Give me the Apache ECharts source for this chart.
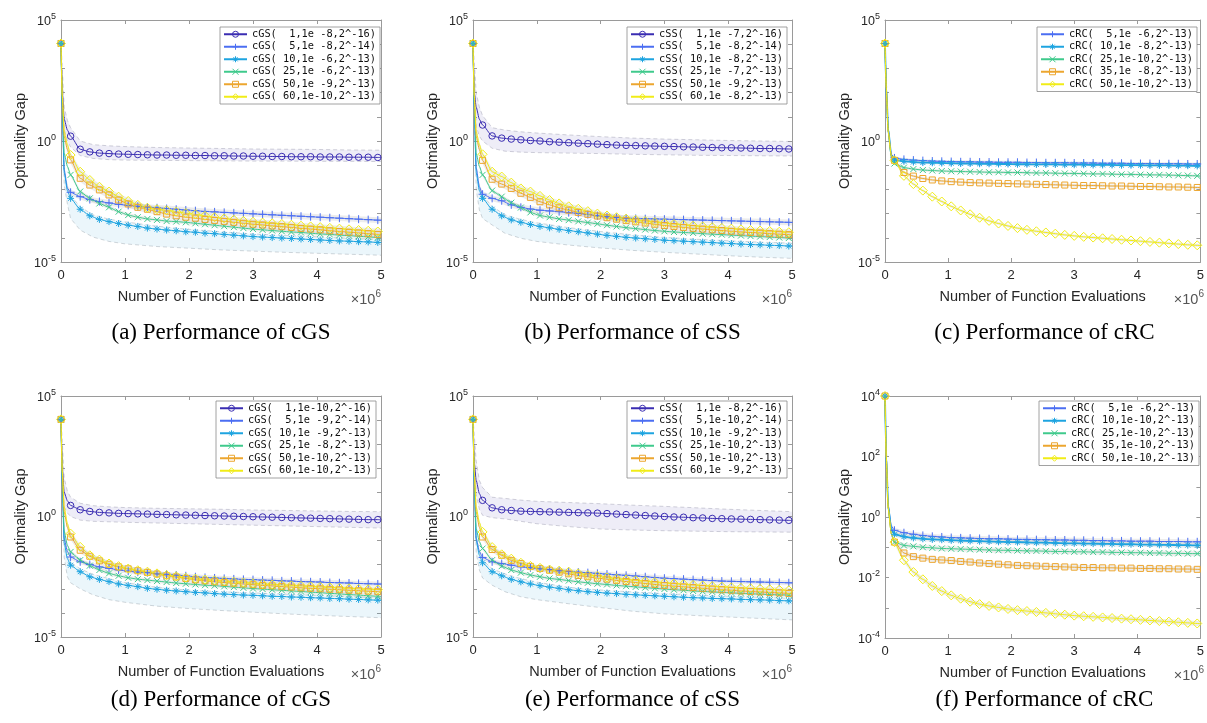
<!DOCTYPE html>
<html><head><meta charset="utf-8">
<script src="https://cdn.jsdelivr.net/npm/echarts@6/dist/echarts.min.js"></script>
<style>html,body{margin:0;padding:0;background:#fff}#c{width:1207px;height:723px}</style>
</head><body><div id="c"></div>
<script>
// x positions, in units of 10^6 function evaluations
const X = [0, 0.02, 0.05, 0.1,
  0.15, 0.3, 0.45, 0.6, 0.75, 0.9, 1.05, 1.2, 1.35, 1.5, 1.65,
  1.8, 1.95, 2.1, 2.25, 2.4, 2.55, 2.7, 2.85, 3.0, 3.15, 3.3,
  3.45, 3.6, 3.75, 3.9, 4.05, 4.2, 4.35, 4.5, 4.65, 4.8, 4.95,
  5.0];
// x positions of the typed band edges
const BX = [0, 0.05, 0.1, 0.15, 0.3, 0.5, 0.75, 1, 1.5, 2, 2.5, 3, 3.5, 4, 4.5, 5];

// all curve values are log10(optimality gap)
// ---- (a) cGS
const a1 = [4.03,2.0,0.9,0.45, 0.2,-0.34,-0.45,-0.5,-0.52,-0.54,-0.55,-0.56,-0.57,-0.58,-0.58, -0.59,-0.59,-0.6,-0.6,-0.61,-0.61,-0.62,-0.62,-0.63,-0.63,-0.64, -0.64,-0.65,-0.65,-0.65,-0.66,-0.66,-0.66,-0.67,-0.67,-0.67,-0.68, -0.68];
const a2 = [4.03,1.5,-1.2,-1.95, -2.12,-2.3,-2.42,-2.5,-2.56,-2.62,-2.66,-2.7,-2.73,-2.76,-2.79, -2.82,-2.85,-2.88,-2.91,-2.93,-2.95,-2.97,-2.99,-3.01,-3.03,-3.05, -3.07,-3.09,-3.11,-3.13,-3.15,-3.17,-3.19,-3.21,-3.23,-3.25,-3.27, -3.28];
const a3 = [4.03,1.3,-1.3,-2.05, -2.37,-2.82,-3.09,-3.24,-3.33,-3.41,-3.48,-3.53,-3.6,-3.64,-3.68, -3.71,-3.75,-3.77,-3.81,-3.83,-3.86,-3.89,-3.92,-3.95,-3.97,-3.99, -4.01,-4.03,-4.05,-4.07,-4.09,-4.11,-4.13,-4.14,-4.16,-4.17,-4.19, -4.2];
const a4 = [4.03,1.6,-0.5,-1.05, -1.4,-2.09,-2.37,-2.58,-2.74,-2.92,-3.06,-3.15,-3.22,-3.26,-3.31, -3.33,-3.36,-3.4,-3.44,-3.48,-3.52,-3.56,-3.6,-3.64,-3.67,-3.7, -3.73,-3.76,-3.78,-3.81,-3.84,-3.86,-3.89,-3.91,-3.94,-3.96,-3.99, -4.0];
const a5 = [4.03,1.8,0.2,-0.35, -0.78,-1.54,-1.82,-2.02,-2.23,-2.44,-2.6,-2.74,-2.82,-2.92,-3.02, -3.09,-3.15,-3.19,-3.24,-3.28,-3.32,-3.36,-3.4,-3.44,-3.47,-3.51, -3.54,-3.57,-3.61,-3.64,-3.67,-3.71,-3.74,-3.77,-3.8,-3.83,-3.86, -3.87];
const a6 = [4.03,1.9,0.4,-0.15, -0.58,-1.27,-1.61,-1.89,-2.09,-2.3,-2.48,-2.64,-2.76,-2.82,-2.86, -2.92,-2.98,-3.03,-3.09,-3.15,-3.2,-3.25,-3.3,-3.34,-3.37,-3.4, -3.43,-3.46,-3.5,-3.53,-3.56,-3.59,-3.62,-3.65,-3.68,-3.71,-3.74, -3.75];
const aPurpleHi = [4.1,1.4,0.85,0.55,0.0,-0.15,-0.2,-0.23,-0.27,-0.29,-0.31,-0.33,-0.34,-0.35,-0.37,-0.38];
const aPurpleLo = [3.9,0.5,0.0,-0.25,-0.6,-0.72,-0.77,-0.79,-0.8,-0.81,-0.82,-0.83,-0.83,-0.84,-0.84,-0.85];
const aCyanHi = [4.1,-1.1,-1.9,-2.25,-2.72,-3.05,-3.23,-3.34,-3.52,-3.65,-3.75,-3.84,-3.9,-3.96,-4.02,-4.07];
const aCyanLo = [3.9,-1.8,-2.6,-3.2,-3.68,-3.97,-4.15,-4.25,-4.36,-4.43,-4.5,-4.55,-4.6,-4.64,-4.68,-4.72];

// ---- (b) cSS
const b1 = [4.03,2.0,1.4,0.9, 0.66,0.21,0.12,0.08,0.05,0.02,0.0,-0.03,-0.05,-0.07,-0.09, -0.11,-0.13,-0.15,-0.17,-0.18,-0.19,-0.2,-0.21,-0.22,-0.23,-0.24, -0.25,-0.26,-0.27,-0.28,-0.28,-0.29,-0.3,-0.31,-0.31,-0.32,-0.33, -0.33];
const b2 = [4.03,1.5,-1.1,-1.9, -2.2,-2.37,-2.47,-2.64,-2.74,-2.81,-2.86,-2.89,-2.92,-2.96,-2.99, -3.04,-3.09,-3.13,-3.16,-3.19,-3.2,-3.21,-3.22,-3.23,-3.24,-3.25, -3.26,-3.27,-3.28,-3.29,-3.3,-3.31,-3.32,-3.33,-3.34,-3.35,-3.36, -3.37];
const b3 = [4.03,1.3,-1.3,-2.05, -2.37,-2.82,-3.09,-3.26,-3.36,-3.45,-3.53,-3.59,-3.65,-3.7,-3.75, -3.8,-3.85,-3.9,-3.94,-3.98,-4.01,-4.04,-4.07,-4.1,-4.12,-4.14, -4.16,-4.18,-4.2,-4.22,-4.24,-4.26,-4.28,-4.29,-4.31,-4.32,-4.34, -4.34];
const b4 = [4.03,1.6,-0.5,-1.05, -1.4,-2.05,-2.3,-2.55,-2.75,-2.95,-3.08,-3.15,-3.22,-3.27,-3.32, -3.37,-3.42,-3.48,-3.53,-3.58,-3.62,-3.66,-3.7,-3.73,-3.76,-3.78, -3.8,-3.83,-3.85,-3.87,-3.89,-3.91,-3.93,-3.95,-3.97,-3.99,-4.01, -4.02];
const b5 = [4.03,1.8,0.2,-0.35, -0.8,-1.58,-1.78,-1.96,-2.16,-2.33,-2.51,-2.64,-2.76,-2.86,-2.95, -3.03,-3.1,-3.17,-3.23,-3.29,-3.34,-3.39,-3.44,-3.49,-3.53,-3.57, -3.61,-3.64,-3.67,-3.7,-3.73,-3.76,-3.78,-3.8,-3.83,-3.85,-3.87, -3.88];
const b6 = [4.03,1.9,0.4,-0.15, -0.55,-1.27,-1.47,-1.72,-1.96,-2.09,-2.27,-2.44,-2.58,-2.7,-2.8, -2.9,-3.0,-3.08,-3.15,-3.21,-3.26,-3.31,-3.35,-3.39,-3.43,-3.46, -3.5,-3.53,-3.56,-3.59,-3.62,-3.65,-3.68,-3.7,-3.72,-3.75,-3.77, -3.78];
const bPurpleHi = [4.1,2.0,1.4,1.05,0.55,0.45,0.38,0.33,0.25,0.18,0.12,0.08,0.05,0.02,0.0,-0.02];
const bPurpleLo = [3.9,0.6,0.2,0.0,-0.3,-0.42,-0.46,-0.48,-0.5,-0.52,-0.55,-0.57,-0.59,-0.6,-0.61,-0.62];
const bCyanHi = [4.1,-1.1,-1.9,-2.25,-2.7,-3.05,-3.24,-3.38,-3.58,-3.74,-3.88,-3.98,-4.06,-4.12,-4.18,-4.22];
const bCyanLo = [3.9,-2.0,-2.85,-3.2,-3.47,-3.81,-4.02,-4.15,-4.3,-4.42,-4.52,-4.6,-4.67,-4.74,-4.8,-4.85];

// ---- (c) cRC
const c1 = [4.03,2.2,0.5,-0.55, -0.7,-0.76,-0.79,-0.81,-0.83,-0.84,-0.85,-0.86,-0.86,-0.87,-0.87, -0.88,-0.88,-0.88,-0.89,-0.89,-0.9,-0.9,-0.9,-0.91,-0.91,-0.91, -0.92,-0.92,-0.92,-0.93,-0.93,-0.93,-0.94,-0.94,-0.94,-0.95,-0.95, -0.95];
const c2 = [4.03,2.2,0.5,-0.6, -0.78,-0.84,-0.87,-0.89,-0.9,-0.91,-0.92,-0.93,-0.93,-0.94,-0.94, -0.95,-0.95,-0.96,-0.96,-0.97,-0.97,-0.97,-0.98,-0.98,-0.98,-0.99, -0.99,-0.99,-1.0,-1.0,-1.0,-1.01,-1.01,-1.01,-1.02,-1.02,-1.03, -1.03];
const c3 = [4.03,2.2,0.4,-0.7, -0.93,-1.1,-1.16,-1.2,-1.22,-1.24,-1.25,-1.26,-1.27,-1.28,-1.29, -1.29,-1.3,-1.3,-1.31,-1.32,-1.32,-1.33,-1.34,-1.34,-1.35,-1.36, -1.36,-1.37,-1.38,-1.38,-1.39,-1.4,-1.4,-1.41,-1.42,-1.43,-1.44, -1.45];
const c4 = [4.03,2.2,0.4,-0.6, -0.8,-1.3,-1.45,-1.55,-1.61,-1.65,-1.68,-1.7,-1.72,-1.73,-1.74, -1.75,-1.76,-1.77,-1.78,-1.79,-1.8,-1.81,-1.82,-1.83,-1.84,-1.84, -1.85,-1.86,-1.86,-1.87,-1.88,-1.88,-1.89,-1.9,-1.9,-1.91,-1.92, -1.93];
const c5 = [4.03,2.2,0.4,-0.6, -0.8,-1.44,-1.78,-2.05,-2.3,-2.5,-2.7,-2.87,-3.03,-3.17,-3.3, -3.41,-3.51,-3.6,-3.67,-3.73,-3.78,-3.83,-3.88,-3.92,-3.96,-3.99, -4.02,-4.05,-4.08,-4.11,-4.14,-4.17,-4.2,-4.23,-4.26,-4.29,-4.31, -4.32];

// ---- (d) cGS
const d1 = [4.03,2.0,1.0,0.65, 0.46,0.28,0.21,0.17,0.15,0.13,0.12,0.11,0.1,0.09,0.08, 0.07,0.06,0.05,0.04,0.03,0.02,0.01,0.0,-0.01,-0.02,-0.03, -0.04,-0.05,-0.06,-0.07,-0.08,-0.09,-0.1,-0.11,-0.12,-0.13,-0.13, -0.14];
const d2 = [4.03,1.5,-0.9,-1.45, -1.68,-1.88,-1.99,-2.09,-2.15,-2.22,-2.27,-2.31,-2.33,-2.38,-2.4, -2.43,-2.46,-2.5,-2.53,-2.55,-2.57,-2.59,-2.61,-2.62,-2.64,-2.65, -2.67,-2.68,-2.7,-2.71,-2.72,-2.74,-2.75,-2.76,-2.78,-2.79,-2.8, -2.81];
const d3 = [4.03,1.3,-1.1,-1.75, -2.02,-2.29,-2.5,-2.61,-2.7,-2.8,-2.86,-2.91,-2.98,-3.02,-3.06, -3.09,-3.12,-3.15,-3.17,-3.2,-3.22,-3.24,-3.26,-3.27,-3.29,-3.31, -3.32,-3.34,-3.35,-3.37,-3.38,-3.4,-3.41,-3.43,-3.44,-3.46,-3.47, -3.48];
const d4 = [4.03,1.6,-0.6,-1.2, -1.47,-1.81,-2.04,-2.22,-2.36,-2.46,-2.54,-2.6,-2.64,-2.68,-2.72, -2.76,-2.79,-2.82,-2.85,-2.87,-2.9,-2.93,-2.96,-2.99,-3.01,-3.04, -3.06,-3.09,-3.11,-3.14,-3.16,-3.19,-3.21,-3.24,-3.26,-3.29,-3.31, -3.32];
const d5 = [4.03,1.8,0.2,-0.45, -0.85,-1.4,-1.65,-1.84,-1.98,-2.09,-2.17,-2.25,-2.32,-2.39,-2.46, -2.51,-2.57,-2.63,-2.67,-2.71,-2.74,-2.77,-2.8,-2.83,-2.86,-2.88, -2.91,-2.93,-2.96,-2.98,-3.0,-3.02,-3.04,-3.06,-3.08,-3.1,-3.12, -3.13];
const d6 = [4.03,1.9,0.4,-0.3, -0.71,-1.26,-1.61,-1.79,-1.95,-2.06,-2.16,-2.23,-2.29,-2.36,-2.43, -2.48,-2.54,-2.58,-2.62,-2.65,-2.68,-2.71,-2.74,-2.77,-2.8,-2.82, -2.84,-2.86,-2.88,-2.9,-2.92,-2.94,-2.96,-2.98,-3.0,-3.02,-3.03, -3.04];
const dPurpleHi = [4.1,1.6,1.05,0.8,0.55,0.45,0.4,0.37,0.34,0.32,0.3,0.27,0.25,0.23,0.21,0.2];
const dPurpleLo = [3.9,0.4,0.15,0.0,-0.15,-0.2,-0.22,-0.24,-0.27,-0.3,-0.33,-0.36,-0.39,-0.42,-0.45,-0.48];
const dCyanHi = [4.1,-0.95,-1.6,-1.9,-2.17,-2.4,-2.58,-2.74,-2.94,-3.06,-3.12,-3.17,-3.22,-3.27,-3.32,-3.37];
const dCyanLo = [3.9,-1.7,-2.5,-2.75,-3.0,-3.25,-3.45,-3.56,-3.72,-3.82,-3.9,-3.97,-4.04,-4.1,-4.15,-4.2];

// ---- (e) cSS
const e1 = [4.03,2.2,1.5,0.95, 0.67,0.36,0.28,0.25,0.22,0.21,0.2,0.19,0.18,0.17,0.16, 0.15,0.14,0.12,0.1,0.08,0.06,0.04,0.02,0.0,-0.02,-0.03, -0.05,-0.06,-0.08,-0.09,-0.1,-0.11,-0.12,-0.13,-0.14,-0.15,-0.16, -0.17];
const e2 = [4.03,1.5,-0.9,-1.45, -1.7,-1.88,-1.95,-2.02,-2.09,-2.13,-2.17,-2.2,-2.25,-2.28,-2.31, -2.33,-2.36,-2.39,-2.42,-2.44,-2.47,-2.5,-2.53,-2.56,-2.58,-2.6, -2.62,-2.64,-2.66,-2.68,-2.69,-2.7,-2.71,-2.72,-2.73,-2.74,-2.75, -2.76];
const e3 = [4.03,1.3,-1.0,-1.6, -1.92,-2.29,-2.46,-2.61,-2.71,-2.8,-2.87,-2.93,-2.98,-3.04,-3.08, -3.12,-3.15,-3.18,-3.2,-3.23,-3.25,-3.27,-3.29,-3.31,-3.33,-3.35, -3.37,-3.38,-3.4,-3.41,-3.42,-3.44,-3.45,-3.46,-3.47,-3.49,-3.5, -3.51];
const e4 = [4.03,1.6,-0.5,-1.05, -1.33,-1.81,-2.06,-2.22,-2.33,-2.43,-2.5,-2.57,-2.61,-2.66,-2.71, -2.75,-2.79,-2.82,-2.86,-2.89,-2.92,-2.95,-2.98,-3.01,-3.04,-3.06, -3.09,-3.11,-3.13,-3.15,-3.17,-3.19,-3.21,-3.22,-3.24,-3.25,-3.26, -3.27];
const e5 = [4.03,1.8,0.2,-0.45, -0.85,-1.37,-1.61,-1.82,-1.95,-2.07,-2.16,-2.23,-2.31,-2.38,-2.45, -2.5,-2.56,-2.6,-2.65,-2.7,-2.74,-2.78,-2.82,-2.86,-2.89,-2.92, -2.95,-2.98,-3.01,-3.04,-3.06,-3.09,-3.11,-3.13,-3.15,-3.17,-3.19, -3.2];
const e6 = [4.03,1.9,0.4,-0.25, -0.64,-1.27,-1.57,-1.75,-1.92,-2.05,-2.13,-2.2,-2.25,-2.29,-2.36, -2.43,-2.47,-2.53,-2.58,-2.61,-2.65,-2.68,-2.72,-2.75,-2.78,-2.81, -2.84,-2.86,-2.89,-2.91,-2.94,-2.96,-2.98,-3.0,-3.02,-3.04,-3.06, -3.07];
const ePurpleHi = [4.1,2.3,1.5,1.2,0.8,0.75,0.68,0.63,0.58,0.53,0.47,0.42,0.36,0.3,0.25,0.2];
const ePurpleLo = [3.9,0.9,0.3,0.05,-0.05,-0.1,-0.2,-0.3,-0.42,-0.52,-0.56,-0.59,-0.61,-0.63,-0.64,-0.65];
const eCyanHi = [4.1,-0.85,-1.45,-1.8,-2.17,-2.38,-2.58,-2.72,-2.94,-3.05,-3.13,-3.2,-3.26,-3.31,-3.35,-3.4];
const eCyanLo = [3.9,-1.5,-2.22,-2.55,-2.85,-3.12,-3.33,-3.45,-3.62,-3.78,-3.93,-4.04,-4.11,-4.17,-4.23,-4.29];

// ---- (f) cRC
const f1 = [4.0,2.0,0.4,-0.3, -0.44,-0.52,-0.57,-0.61,-0.64,-0.66,-0.68,-0.69,-0.7,-0.71,-0.72, -0.72,-0.73,-0.74,-0.74,-0.75,-0.75,-0.76,-0.76,-0.77,-0.77,-0.78, -0.78,-0.79,-0.79,-0.8,-0.8,-0.8,-0.81,-0.81,-0.81,-0.82,-0.82, -0.83];
const f2 = [4.0,2.0,0.35,-0.4, -0.57,-0.65,-0.69,-0.72,-0.74,-0.75,-0.77,-0.78,-0.79,-0.8,-0.81, -0.82,-0.83,-0.83,-0.84,-0.85,-0.85,-0.86,-0.87,-0.87,-0.88,-0.88, -0.89,-0.89,-0.9,-0.9,-0.91,-0.91,-0.92,-0.92,-0.93,-0.93,-0.94, -0.94];
const f3 = [4.0,2.0,0.3,-0.55, -0.83,-0.94,-0.97,-1.0,-1.02,-1.04,-1.05,-1.06,-1.07,-1.08,-1.09, -1.1,-1.1,-1.11,-1.12,-1.12,-1.13,-1.14,-1.14,-1.15,-1.15,-1.16, -1.16,-1.17,-1.17,-1.18,-1.18,-1.19,-1.19,-1.2,-1.2,-1.21,-1.21, -1.21];
const f4 = [4.0,2.0,0.3,-0.55, -0.83,-1.19,-1.31,-1.36,-1.4,-1.42,-1.44,-1.47,-1.49,-1.52,-1.54, -1.56,-1.58,-1.6,-1.61,-1.62,-1.63,-1.64,-1.65,-1.66,-1.67,-1.67, -1.68,-1.68,-1.69,-1.69,-1.7,-1.7,-1.71,-1.71,-1.72,-1.72,-1.73, -1.73];
const f5 = [4.0,2.0,0.3,-0.55, -0.83,-1.43,-1.82,-2.06,-2.28,-2.45,-2.59,-2.7,-2.8,-2.88,-2.94, -2.99,-3.04,-3.08,-3.11,-3.14,-3.17,-3.2,-3.23,-3.26,-3.28,-3.3, -3.32,-3.34,-3.36,-3.38,-3.4,-3.42,-3.44,-3.46,-3.48,-3.5,-3.52, -3.53];

// band half-widths (decades) of the grey shading around each curve
const spreadA = [0, 0.12, 0, 0.08, 0.15, 0.12];
const spreadB = [0, 0.12, 0, 0.08, 0.15, 0.12];
const spreadC = [0.06, 0.06, 0.06, 0.06, 0.06];
const spreadD = [0, 0.1, 0, 0.08, 0.12, 0.1];
const spreadE = [0, 0.1, 0, 0.08, 0.12, 0.1];
const spreadF = [0.08, 0.08, 0.08, 0.08, 0.08];

// legend labels
const namesA = ['cGS(  1,1e -8,2^-16)','cGS(  5,1e -8,2^-14)','cGS( 10,1e -6,2^-13)','cGS( 25,1e -6,2^-13)','cGS( 50,1e -9,2^-13)','cGS( 60,1e-10,2^-13)'];
const namesB = ['cSS(  1,1e -7,2^-16)','cSS(  5,1e -8,2^-14)','cSS( 10,1e -8,2^-13)','cSS( 25,1e -7,2^-13)','cSS( 50,1e -9,2^-13)','cSS( 60,1e -8,2^-13)'];
const namesC = ['cRC(  5,1e -6,2^-13)','cRC( 10,1e -8,2^-13)','cRC( 25,1e-10,2^-13)','cRC( 35,1e -8,2^-13)','cRC( 50,1e-10,2^-13)'];
const namesD = ['cGS(  1,1e-10,2^-16)','cGS(  5,1e -9,2^-14)','cGS( 10,1e -9,2^-13)','cGS( 25,1e -8,2^-13)','cGS( 50,1e-10,2^-13)','cGS( 60,1e-10,2^-13)'];
const namesE = ['cSS(  1,1e -8,2^-16)','cSS(  5,1e-10,2^-14)','cSS( 10,1e -9,2^-13)','cSS( 25,1e-10,2^-13)','cSS( 50,1e-10,2^-13)','cSS( 60,1e -9,2^-13)'];
const namesF = ['cRC(  5,1e -6,2^-13)','cRC( 10,1e-10,2^-13)','cRC( 25,1e-10,2^-13)','cRC( 35,1e-10,2^-13)','cRC( 50,1e-10,2^-13)'];
const captions = ['(a) Performance of cGS','(b) Performance of cSS','(c) Performance of cRC','(d) Performance of cGS','(e) Performance of cSS','(f) Performance of cRC'];
const yLabelsTop = [-5, 0, 5];
const yLabelsF = [-4, -2, 0, 2, 4];

// ---------- styles ----------
const COL = {P:'#3a2db2', B:'#4b6ef2', C:'#1ea4e0', G:'#3fca8c', O:'#eca62f', Y:'#f1ec17'};
const SYM = {
  P:{s:'circle', z:6.5},
  B:{s:'path://M0,5L10,5M5,0L5,10', z:8},
  C:{s:'path://M5,0L5,10M0,5L10,5M1.5,1.5L8.5,8.5M8.5,1.5L1.5,8.5', z:7},
  G:{s:'path://M0,0L10,10M10,0L0,10', z:6},
  O:{s:'rect', z:6},
  Y:{s:'diamond', z:9}
};
const FONT = 'Liberation Sans';
const TXT = '#262626';
const AX = '#9a9a9a';

const panels = [
  {g:{left:61,top:20,width:320,height:242}, y:[-5,5], lab:yLabelsTop, names:namesA, keys:['P','B','C','G','O','Y'], vals:[a1,a2,a3,a4,a5,a6], spread:spreadA, purple:[aPurpleLo,aPurpleHi], cyan:[aCyanLo,aCyanHi], lg:{right:827,top:27}},
  {g:{left:473,top:20,width:319,height:242}, y:[-5,5], lab:yLabelsTop, names:namesB, keys:['P','B','C','G','O','Y'], vals:[b1,b2,b3,b4,b5,b6], spread:spreadB, purple:[bPurpleLo,bPurpleHi], cyan:[bCyanLo,bCyanHi], lg:{right:420,top:27}},
  {g:{left:885,top:20,width:319,height:242}, y:[-5,5], lab:yLabelsTop, names:namesC, keys:['B','C','G','O','Y'], vals:[c1,c2,c3,c4,c5], spread:spreadC, lg:{right:10,top:27}},
  {g:{left:61,top:396,width:320,height:241}, y:[-5,5], lab:yLabelsTop, names:namesD, keys:['P','B','C','G','O','Y'], vals:[d1,d2,d3,d4,d5,d6], spread:spreadD, purple:[dPurpleLo,dPurpleHi], cyan:[dCyanLo,dCyanHi], lg:{right:831,top:401}},
  {g:{left:473,top:396,width:319,height:241}, y:[-5,5], lab:yLabelsTop, names:namesE, keys:['P','B','C','G','O','Y'], vals:[e1,e2,e3,e4,e5,e6], spread:spreadE, purple:[ePurpleLo,ePurpleHi], cyan:[eCyanLo,eCyanHi], lg:{right:420,top:401}},
  {g:{left:885,top:396,width:319,height:242}, y:[-4,4], lab:yLabelsF, names:namesF, keys:['B','C','G','O','Y'], vals:[f1,f2,f3,f4,f5], spread:spreadF, lg:{right:8,top:401}}
];

const isMark = i => i === 0 || (i >= 4 && i <= 36);
const p10 = v => Math.pow(10, v);

function bandSeries(gi, xs, lo, hi, fill, edge) {
  return {
    type:'custom', xAxisIndex:gi*2, yAxisIndex:gi*2, clip:true, silent:true, z:1,
    data:[[0,1]],
    renderItem:function(params, api){
      const top = xs.map((x,i)=>api.coord([x, p10(hi[i])]));
      const bot = xs.map((x,i)=>api.coord([x, p10(lo[i])]));
      const children = [
        {type:'polygon', shape:{points: top.concat(bot.slice().reverse())}, style:{fill:fill, stroke:null}}
      ];
      if (edge) {
        children.push({type:'polyline', shape:{points:top}, style:{stroke:edge, lineWidth:0.8, lineDash:[4,3], fill:null}});
        children.push({type:'polyline', shape:{points:bot}, style:{stroke:edge, lineWidth:0.8, lineDash:[4,3], fill:null}});
      }
      return {type:'group', children:children};
    }
  };
}

const grid=[], xAxis=[], yAxis=[], series=[], legend=[], graphic=[];
const rich = {
  b:{fontSize:12.5, fontFamily:FONT, color:TXT, lineHeight:16, verticalAlign:'bottom'},
  e:{fontSize:9, fontFamily:FONT, color:TXT, lineHeight:16, verticalAlign:'top'}
};

panels.forEach((p, gi) => {
  grid.push(Object.assign({containLabel:false}, p.g));
  const xCommon = {gridIndex:gi, type:'value', min:0, max:5, interval:1,
    axisLine:{show:true, onZero:false, lineStyle:{color:AX, width:1}},
    axisTick:{show:true, inside:true, length:4, lineStyle:{color:AX}},
    splitLine:{show:false}};
  xAxis.push(Object.assign({}, xCommon, {position:'bottom',
    axisLabel:{margin:7, fontSize:13, color:TXT, fontFamily:FONT},
    name:'Number of Function Evaluations', nameLocation:'middle', nameGap:27,
    nameTextStyle:{fontSize:14.5, color:TXT, fontFamily:FONT}}));
  xAxis.push(Object.assign({}, xCommon, {position:'top', axisLabel:{show:false}}));
  const lab = p.lab;
  const yCommon = {gridIndex:gi, type:'log', logBase:10, min:p10(p.y[0]), max:p10(p.y[1]), interval:1,
    axisLine:{show:true, onZero:false, lineStyle:{color:AX, width:1}},
    axisTick:{show:true, inside:true, length:4, lineStyle:{color:AX}},
    splitLine:{show:false}, minorTick:{show:false}};
  yAxis.push(Object.assign({}, yCommon, {position:'left',
    axisLabel:{margin:5, rich:rich, formatter:function(v){
      const e = Math.round(Math.log10(v));
      return lab.indexOf(e) >= 0 ? '{b|10}{e|' + e + '}' : '';
    }},
    name:'Optimality Gap', nameLocation:'middle', nameGap:33,
    nameTextStyle:{fontSize:14.5, color:TXT, fontFamily:FONT}}));
  yAxis.push(Object.assign({}, yCommon, {position:'right', axisLabel:{show:false}}));

  // shading bands
  p.keys.forEach((k, si) => {
    const v = p.vals[si];
    if (k === 'P' && p.purple) {
      series.push(bandSeries(gi, BX, p.purple[0], p.purple[1], 'rgba(70,60,170,0.09)', 'rgba(150,150,170,0.55)'));
    } else if (k === 'C' && p.cyan) {
      series.push(bandSeries(gi, BX, p.cyan[0], p.cyan[1], 'rgba(60,170,220,0.10)', 'rgba(150,160,170,0.55)'));
    } else if (p.spread[si] > 0) {
      const w = p.spread[si];
      series.push(bandSeries(gi, X, v.map(t=>t-w), v.map(t=>t+w), 'rgba(170,170,170,0.22)', null));
    }
  });
  // curves
  p.keys.forEach((k, si) => {
    const v = p.vals[si];
    const c = COL[k];
    const lw = (k === 'C' && !p.purple) ? 1.8 : 1;
    series.push({
      type:'line', name:p.names[si], xAxisIndex:gi*2, yAxisIndex:gi*2, z:3,
      data: X.map((x,i)=>{ const it={value:[x, p10(v[i])]}; if(!isMark(i)) it.symbol='none'; return it; }),
      symbol:SYM[k].s, symbolSize:SYM[k].z, showAllSymbol:true, clip:true,
      smooth:0.2, smoothMonotone:'x',
      lineStyle:{color:c, width:lw},
      itemStyle:{color:'rgba(255,255,255,0)', borderColor:c, borderWidth:1},
      emphasis:{disabled:true}
    });
  });
  legend.push({
    data:p.names, orient:'vertical', right:p.lg.right, top:p.lg.top,
    itemWidth:23, itemHeight:7.5, itemGap:0, padding:[1,4,1,3],
    backgroundColor:'#fff', borderColor:'#8a8a8a', borderWidth:0.8,
    selectedMode:false, itemStyle:{borderWidth:1},
    textStyle:{fontFamily:'DejaVu Sans Mono', fontSize:10.3, color:'#111', lineHeight:12.5}
  });
  const right = p.g.left + p.g.width;
  const bottom = p.g.top + p.g.height;
  graphic.push({type:'text', x:right, y:bottom + 36, style:{
    text:'{t|×10}{s|6}', align:'right', verticalAlign:'middle',
    rich:{t:{fontSize:14.5, fontFamily:FONT, fill:'#555', lineHeight:18, verticalAlign:'bottom'},
          s:{fontSize:10, fontFamily:FONT, fill:'#555', lineHeight:18, verticalAlign:'top'}}}});
  graphic.push({type:'text', x:p.g.left + p.g.width/2, y:(gi < 3 ? 333 : 700), style:{
    text:captions[gi], align:'center', verticalAlign:'middle',
    font:'23px "Liberation Serif"', fill:'#000'}});
});

const chart = echarts.init(document.getElementById('c'), null, {renderer:'canvas'});
chart.setOption({animation:false, backgroundColor:'#fff', grid, xAxis, yAxis, series, legend, graphic});
</script>
</body></html>
